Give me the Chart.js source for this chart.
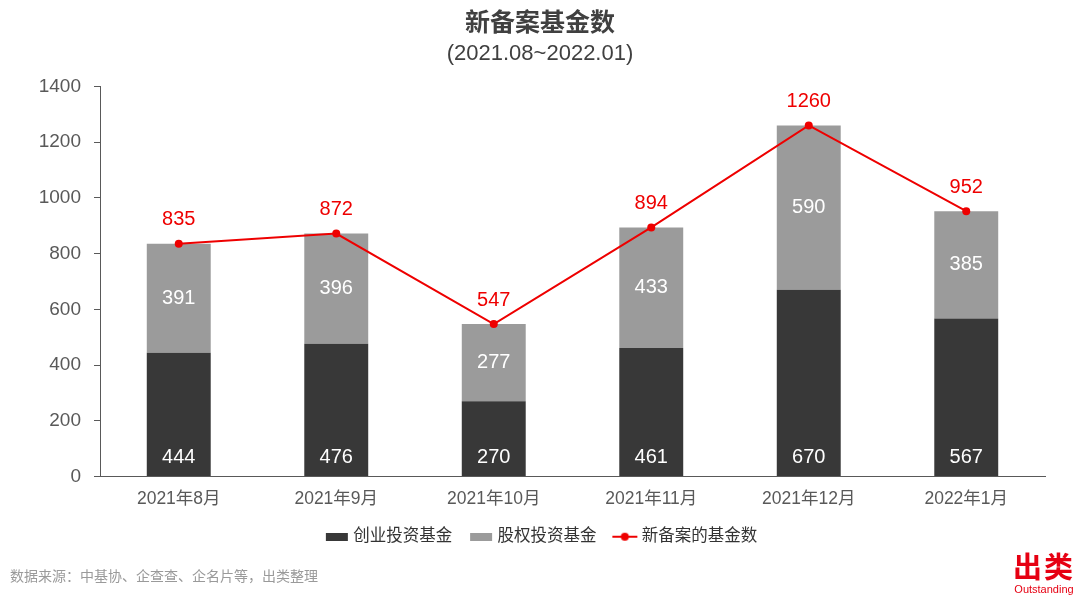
<!DOCTYPE html>
<html>
<head>
<meta charset="utf-8">
<script src="https://cdn.jsdelivr.net/npm/chart.js@4.4.1/dist/chart.umd.min.js"></script>
<style>
  html, body { margin: 0; padding: 0; background: #fff; }
  #wrap { position: relative; width: 1080px; height: 609px; }
  #source {
    position: absolute; left: 10px; top: 565px;
    font: 14px "Noto Sans CJK SC", "Liberation Sans", sans-serif; color: #9a9a9a;
  }
  #logo {
    position: absolute; left: 1010px; top: 549px; width: 68px; text-align: center;
    color: #e60012; font-family: "Noto Sans CJK SC", sans-serif;
  }
  #logo .big { font-size: 29px; font-weight: bold; line-height: 32px; letter-spacing: 2px; }
  #logo .small { font: 11px "Liberation Sans", sans-serif; line-height: 16px; }
</style>
</head>
<body>
<div id="wrap">
  <canvas id="fundChart" width="1080" height="609"></canvas>
  <div id="source">数据来源：中基协、企查查、企名片等，出类整理</div>
  <div id="logo"><div class="big">出类</div><div class="small">Outstanding</div></div>
</div>
<script>
const months = ['2021年8月', '2021年9月', '2021年10月', '2021年11月', '2021年12月', '2022年1月'];
const ventureFunds = [444, 476, 270, 461, 670, 567];   // 创业投资基金
const equityFunds = [391, 396, 277, 433, 590, 385];    // 股权投资基金
const newFunds = [835, 872, 547, 894, 1260, 952];      // 新备案的基金数

const DARK = '#383838';
const GREY = '#9b9b9b';
const RED = '#ee0000';
const FONT = '"Liberation Sans", "Noto Sans CJK SC", sans-serif';

// legend icons, drawn a bit off-centre so they sit close to their text
const boxIcon = (color) => {
    const c = document.createElement('canvas');
    c.width = 30; c.height = 8;
    const g = c.getContext('2d');
    g.fillStyle = color;
    g.fillRect(7, 0, 22, 8);
    return c;
};
const lineIcon = () => {
    const c = document.createElement('canvas');
    c.width = 34; c.height = 10;
    const g = c.getContext('2d');
    g.strokeStyle = RED; g.lineWidth = 2;
    g.beginPath(); g.moveTo(7, 5); g.lineTo(32, 5); g.stroke();
    g.fillStyle = RED;
    g.beginPath(); g.arc(19.5, 5, 4, 0, Math.PI * 2); g.fill();
    return c;
};
const icons = [boxIcon(DARK), boxIcon(GREY), lineIcon()];

// value labels
const valueLabels = {
    id: 'valueLabels',
    afterDatasetsDraw(chart) {
        const { ctx } = chart;
        ctx.save();
        ctx.textAlign = 'center';
        ctx.textBaseline = 'middle';
        ctx.font = '20px ' + FONT;
        chart.data.datasets.forEach((ds, i) => {
            const meta = chart.getDatasetMeta(i);
            meta.data.forEach((el, j) => {
                const v = ds.data[j];
                if (i === 0) {
                    ctx.fillStyle = '#ffffff';
                    ctx.fillText(v, el.x, el.base - 19);
                } else if (i === 1) {
                    ctx.fillStyle = '#ffffff';
                    ctx.fillText(v, el.x, (el.y + el.base) / 2);
                } else {
                    ctx.fillStyle = RED;
                    ctx.fillText(v, el.x, el.y - 24);
                }
            });
        });
        ctx.restore();
    }
};

const ctx = document.getElementById('fundChart').getContext('2d');
const fundChart = new Chart(ctx, {
    data: {
        labels: months,
        datasets: [{
            type: 'bar',
            label: '创业投资基金',
            data: ventureFunds,
            backgroundColor: DARK,
            stack: 'bars',
            categoryPercentage: 1,
            barPercentage: 0.406,
            order: 2,
        }, {
            type: 'bar',
            label: '股权投资基金',
            data: equityFunds,
            backgroundColor: GREY,
            stack: 'bars',
            categoryPercentage: 1,
            barPercentage: 0.406,
            order: 2,
        }, {
            type: 'line',
            label: '新备案的基金数',
            data: newFunds,
            borderColor: RED,
            backgroundColor: RED,
            borderWidth: 2,
            pointRadius: 4,
            pointBackgroundColor: RED,
            pointBorderWidth: 0,
            stack: 'line',
            order: 1,
        }],
    },
    options: {
        responsive: false,
        animation: false,
        layout: { padding: { left: 0, right: 0, top: 9, bottom: 54 } },
        plugins: {
            title: {
                display: true,
                text: '新备案基金数',
                color: '#404040',
                font: { family: FONT, size: 25, weight: 'bold' },
                padding: { top: 0, bottom: 2 },
            },
            subtitle: {
                display: true,
                text: '(2021.08~2022.01)',
                color: '#404040',
                font: { family: FONT, size: 22 },
                padding: { top: 0, bottom: 19 },
            },
            legend: {
                position: 'bottom',
                maxHeight: 46,
                labels: {
                    usePointStyle: true,
                    pointStyleWidth: 22,
                    color: '#333333',
                    font: { family: FONT, size: 16.5 },
                    padding: 15,
                    generateLabels(chart) {
                        return chart.data.datasets.map((ds, i) => ({
                            text: ds.label,
                            pointStyle: icons[i],
                            fontColor: '#333333',
                            datasetIndex: i,
                            hidden: false,
                            lineWidth: 0,
                        }));
                    },
                },
            },
            tooltip: { enabled: false },
        },
        scales: {
            x: {
                stacked: true,
                grid: { display: false },
                border: { display: true, color: '#595959', width: 1 },
                ticks: { color: '#595959', font: { family: FONT, size: 17.5 }, padding: 4 },
            },
            y: {
                stacked: true,
                min: 0,
                max: 1400,
                afterFit(scale) { scale.width = 100; },
                grid: { drawOnChartArea: false, drawTicks: true, tickLength: 6, color: '#595959' },
                border: { display: true, color: '#595959', width: 1 },
                ticks: {
                    stepSize: 200,
                    color: '#595959',
                    font: { family: FONT, size: 19 },
                    padding: 13,
                    callback: (v) => String(v),
                },
            },
            // empty right-hand axis, only keeps a margin on the right
            yRight: {
                position: 'right',
                display: true,
                afterFit(scale) { scale.width = 35; },
                grid: { display: false },
                border: { display: false },
                ticks: { display: false },
            },
        },
    },
    plugins: [valueLabels],
});
</script>
</body>
</html>
